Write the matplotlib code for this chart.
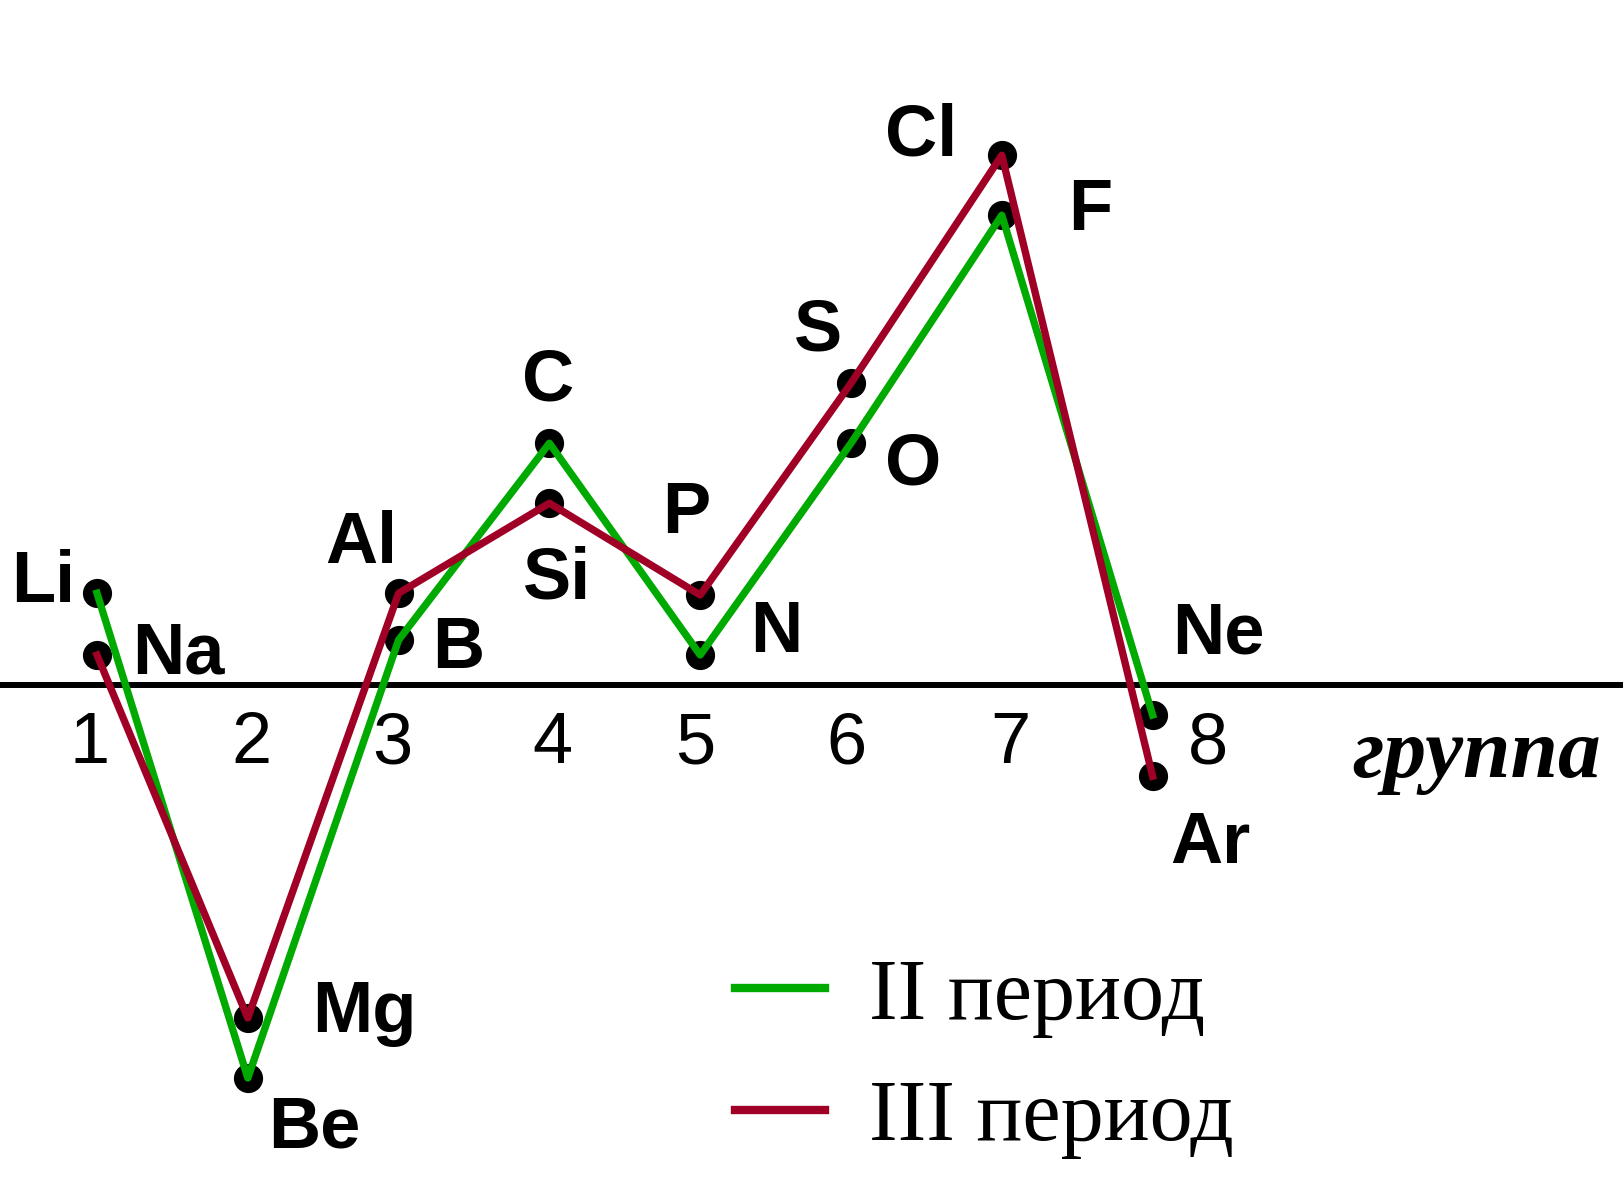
import numpy as np
import matplotlib
matplotlib.use("Agg")
import matplotlib.pyplot as plt

# data: groups 1..8, periods II and III
groups = np.arange(1, 9)
period2_elements = ['Li', 'Be', 'B', 'C', 'N', 'O', 'F', 'Ne']
period3_elements = ['Na', 'Mg', 'Al', 'Si', 'P', 'S', 'Cl', 'Ar']
period2_values = [1.53, -6.55, 0.75, 4.03, 0.5, 4.03, 7.83, -0.5]
period3_values = [0.5, -5.55, 1.53, 3.03, 1.5, 5.03, 8.83, -1.52]
group_labels = ['1', '2', '3', '4', '5', '6', '7', '8']
legend_labels = ['II период', 'III период']

GREEN = '#00aa00'
RED = '#a00025'

# label offsets (pixels) from the dot: dx, baseline dy
p2_offsets = [(-54, -9), (67, -69), (60, -28), (-1, 43), (76, 3), (62, -41), (88, -15), (66, 62)]
p3_offsets = [(81, -18), (117, -14), (-37, 30), (8, -95), (-14, 62), (-33, 33), (-81, 0), (58, -87)]
num_dx = [-7, 4, -6, 3, -5, -5, 9, 55]

fig = plt.figure(figsize=(16.24, 11.96), dpi=100)
ax = fig.add_axes([0, 0, 1, 1])
ax.set_xlim(1 - 97 / 150.8, 1 + 1527 / 150.8)
ax.set_ylim(-511 / 60, 685 / 60)
ax.axis('off')

ax.axhline(0, color='black', lw=4.3, zorder=1)

ax.plot(groups, period2_values, 'o', color='black', ms=20, zorder=2)
ax.plot(groups, period3_values, 'o', color='black', ms=20, zorder=2)
l2, = ax.plot(groups, period2_values, color=GREEN, lw=5.3, zorder=3, label=legend_labels[0])
l3, = ax.plot(groups, period3_values, color=RED, lw=5.3, zorder=3, label=legend_labels[1])

bold = dict(family='Liberation Sans', weight='bold', fontsize=52, ha='center', va='baseline')
for g, v, name, off in zip(groups, period2_values, period2_elements, p2_offsets):
    ax.annotate(name, (g, v), xytext=off, textcoords='offset pixels', **bold)
for g, v, name, off in zip(groups, period3_values, period3_elements, p3_offsets):
    ax.annotate(name, (g, v), xytext=off, textcoords='offset pixels', **bold)

for g, lab, dx in zip(groups, group_labels, num_dx):
    ax.annotate(lab, (g, 0), xytext=(dx, -78), textcoords='offset pixels',
                family='Liberation Sans', fontsize=52, ha='center', va='baseline')

fig.text(1477 / 1624, 1 - 777 / 1196, 'группа', family='Liberation Serif',
         style='italic', weight='bold', fontsize=61.5, ha='center', va='baseline')

leg = ax.legend(handles=[l2, l3], loc='upper left', bbox_to_anchor=(735 / 1624, 1 - 958 / 1196),
                bbox_transform=fig.transFigure, frameon=False, borderpad=0, borderaxespad=0,
                handlelength=1.04, handletextpad=0.52, labelspacing=0.49,
                prop=dict(family='Liberation Serif', size=62))
for h in leg.get_lines():
    h.set_linewidth(6)

fig.savefig('out.png', dpi=100)
